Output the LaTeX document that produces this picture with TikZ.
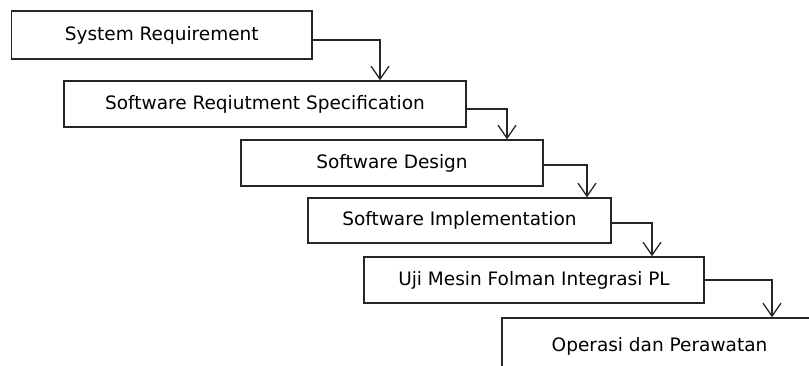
\documentclass[tikz,border=0pt]{standalone}
\usepackage{fontspec}
\setmainfont{DejaVu Sans}
\usetikzlibrary{arrows.meta,positioning}

\begin{document}
\begin{tikzpicture}[x=1pt, y=-1pt,
		stage/.style={draw=black!85, line width=1.4pt, inner sep=0pt, align=center,
			font=\fontsize{18.5}{22}\selectfont},
		flow/.style={draw=black!85, line width=1.2pt, -{Straight Barb[length=13pt, width=18pt, line width=1.3pt]}}]
			\clip (0,0) rectangle (809,365);
			
			% Stages
			\node[stage, minimum width=300.5pt, minimum height=48pt] (sysreq) at (161.75,35) {System Requirement};
			\node[stage, minimum width=402pt, minimum height=46pt] (srs) at (265,104) {Software Reqiutment Specification};
			\node[stage, minimum width=302pt, minimum height=46pt] (design) at (392,163) {Software Design};
			\node[stage, minimum width=303pt, minimum height=45pt] (impl) at (459.5,220.5) {Software Implementation};
			\node[stage, minimum width=340pt, minimum height=46pt] (uji) at (534,280) {Uji Mesin Folman Integrasi PL};
			% last box runs off the bottom and right
			\node[stage, minimum width=315pt, minimum height=56pt] (ops) at (659.5,346) {\raisebox{4pt}{Operasi dan Perawatan}};
			
			% Steps down the waterfall
			\draw[flow] ([yshift=-5pt]sysreq.east) -| ([xshift=115pt]srs.north);
			\draw[flow] ([yshift=-5pt]srs.east) -| ([xshift=115pt]design.north);
			\draw[flow] ([yshift=-2pt]design.east) -| ([xshift=127.5pt]impl.north);
			\draw[flow] ([yshift=-2.5pt]impl.east) -| ([xshift=118pt]uji.north);
			\draw[flow] (uji.east) -| ([xshift=112.5pt]ops.north);
		\end{tikzpicture}
\end{document}
